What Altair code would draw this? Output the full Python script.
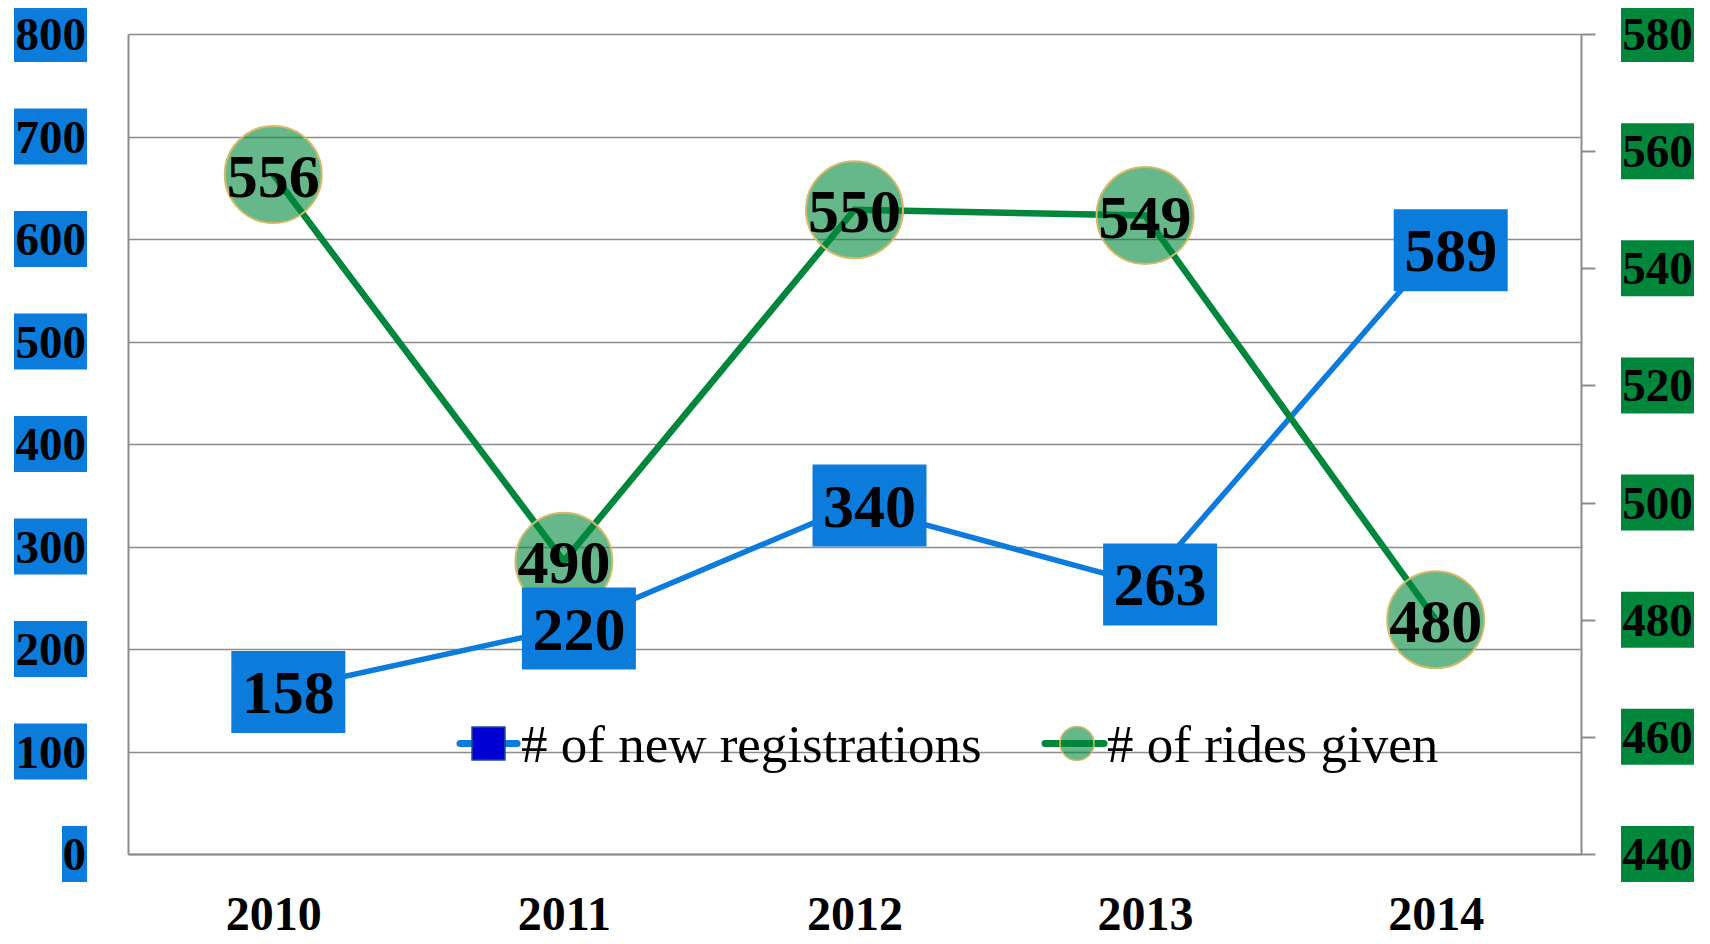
import altair as alt
import pandas as pd

# ---------------- data ----------------
YEARS = ["2010", "2011", "2012", "2013", "2014"]
REGISTRATIONS = [158, 220, 340, 263, 589]
RIDES = [556, 490, 550, 549, 480]
LEFT_TICKS = [0, 100, 200, 300, 400, 500, 600, 700, 800]
RIGHT_TICKS = [440, 460, 480, 500, 520, 540, 560, 580]
LEGEND_LABELS = ["# of new registrations", "# of rides given"]

# ---------------- style ----------------
W, H = 1453, 820
BLUE = "#0B7BDC"
GREEN = "#00873C"
GOLD = "#D8B968"
GRAY = "#8C8C8C"
SERIF = "Liberation Serif"

df = pd.DataFrame({"year": YEARS, "reg": REGISTRATIONS, "rides": RIDES})
left_df = pd.DataFrame({"tick": LEFT_TICKS})
right_df = pd.DataFrame({"tick": RIGHT_TICKS})

x_enc = alt.X(
    "year:N",
    sort=YEARS,
    scale=alt.Scale(type="point", padding=0.5),
    axis=alt.Axis(
        title=None, labelAngle=0, ticks=False, tickSize=0,
        domainColor=GRAY, domainWidth=2,
        labelFont=SERIF, labelFontWeight="bold", labelFontSize=48,
        labelColor="black", labelPadding=37, grid=False,
    ),
)

reg_scale = alt.Scale(domain=[0, 800], nice=False, zero=False)
ride_scale = alt.Scale(domain=[440, 580], nice=False, zero=False)

left_axis = alt.Axis(
    orient="left", values=LEFT_TICKS, grid=True, gridColor=GRAY, gridWidth=1.5,
    gridOpacity=1, domainColor=GRAY, domainWidth=2, ticks=False, tickSize=0,
    labels=False, title=None,
)
right_axis = alt.Axis(
    orient="right", values=RIGHT_TICKS, grid=False, domainColor=GRAY, domainWidth=2,
    ticks=True, tickSize=14, tickColor=GRAY, tickWidth=2, labels=False, title=None,
)

base = alt.Chart(df)

reg_line = base.mark_line(color=BLUE, strokeWidth=5.5).encode(
    x=x_enc, y=alt.Y("reg:Q", scale=reg_scale, axis=left_axis)
)
ride_line = base.mark_line(color=GREEN, strokeWidth=6.5).encode(
    x=x_enc, y=alt.Y("rides:Q", scale=ride_scale, axis=right_axis)
)
ride_circles = base.mark_point(
    shape="circle", size=97 * 97, filled=True, fill=GREEN, fillOpacity=0.6,
    stroke=GOLD, strokeWidth=2, opacity=1,
).encode(x=x_enc, y=alt.Y("rides:Q", scale=ride_scale, axis=None))
ride_text = base.mark_text(
    font=SERIF, fontWeight="bold", fontSize=62, color="black",
    align="center", baseline="middle", dy=3,
).encode(x=x_enc, y=alt.Y("rides:Q", scale=ride_scale, axis=None), text="rides:Q")

# data label boxes for registrations (114 x 82, shifted 15px right)
BOX_PATH = "M-1.024,-1H1.756V1H-1.024Z"
reg_boxes = base.mark_point(
    shape=BOX_PATH, size=82 * 82, filled=True, color=BLUE, opacity=1, strokeWidth=0,
).encode(x=x_enc, y=alt.Y("reg:Q", scale=reg_scale, axis=None))
reg_text = base.mark_text(
    font=SERIF, fontWeight="bold", fontSize=62, color="black",
    align="center", baseline="middle", dx=15, dy=2,
).encode(x=x_enc, y=alt.Y("reg:Q", scale=reg_scale, axis=None), text="reg:Q")

# left axis labels with blue boxes
P3_R = "M-2.607,-1H0V1H-2.607Z"
P1_R = "M-0.893,-1H0V1H-0.893Z"
left_boxes = alt.Chart(left_df).transform_calculate(
    shp=f"datum.tick >= 100 ? '{P3_R}' : '{P1_R}'"
).mark_point(filled=True, color=BLUE, opacity=1, strokeWidth=0, size=56 * 56).encode(
    x=alt.value(-41),
    y=alt.Y("tick:Q", scale=reg_scale, axis=None),
    shape=alt.Shape("shp:N", scale=None, legend=None),
)
left_text = alt.Chart(left_df).mark_text(
    font=SERIF, fontWeight="bold", fontSize=47, color="black",
    align="right", baseline="middle", dy=2,
).encode(
    x=alt.value(-42),
    y=alt.Y("tick:Q", scale=reg_scale, axis=None),
    text="tick:Q",
)

# right axis labels with green boxes
P3_L = "M0,-1H2.607V1H0Z"
right_boxes = alt.Chart(right_df).mark_point(
    shape=P3_L, filled=True, color=GREEN, opacity=1, strokeWidth=0, size=56 * 56
).encode(
    x=alt.value(W + 40),
    y=alt.Y("tick:Q", scale=ride_scale, axis=None),
)
right_text = alt.Chart(right_df).mark_text(
    font=SERIF, fontWeight="bold", fontSize=47, color="black",
    align="center", baseline="middle", dy=2,
).encode(
    x=alt.value(W + 40 + 36.5),
    y=alt.Y("tick:Q", scale=ride_scale, axis=None),
    text="tick:Q",
)

# legend (drawn with marks)
leg1 = alt.Data(values=[{"label": LEGEND_LABELS[0]}])
leg2 = alt.Data(values=[{"label": LEGEND_LABELS[1]}])
LY = 709.5
leg1_line = alt.Chart(leg1).mark_rule(color=BLUE, strokeWidth=7, strokeCap="round").encode(
    x=alt.value(332), x2=alt.value(389), y=alt.value(LY)
)
leg1_sym = alt.Chart(leg1).mark_point(
    shape="square", size=33 * 33, filled=True, fill="#0000D6", stroke="#1F4E8C",
    strokeWidth=1.5, opacity=1,
).encode(x=alt.value(360.5), y=alt.value(LY))
leg1_text = alt.Chart(leg1).mark_text(
    font=SERIF, fontSize=53, color="black", align="left", baseline="alphabetic",
).encode(x=alt.value(393), y=alt.value(728), text="label:N")

leg2_line = alt.Chart(leg2).mark_rule(color=GREEN, strokeWidth=7, strokeCap="round").encode(
    x=alt.value(917), x2=alt.value(976), y=alt.value(LY)
)
leg2_sym = alt.Chart(leg2).mark_point(
    shape="circle", size=34 * 34, filled=True, fill=GREEN, fillOpacity=0.6,
    stroke=GOLD, strokeWidth=1.5, opacity=1,
).encode(x=alt.value(949), y=alt.value(LY))
leg2_text = alt.Chart(leg2).mark_text(
    font=SERIF, fontSize=53, color="black", align="left", baseline="alphabetic",
).encode(x=alt.value(979), y=alt.value(728), text="label:N")

chart = alt.layer(
    reg_line, ride_line, ride_circles, ride_text, reg_boxes, reg_text,
    left_boxes, left_text, right_boxes, right_text,
    leg1_line, leg1_sym, leg1_text, leg2_line, leg2_sym, leg2_text,
).resolve_scale(y="independent").properties(
    width=W, height=H,
    autosize=alt.AutoSizeParams(type="none"),
    padding={"left": 120, "top": 26, "right": 120, "bottom": 86},
).configure_view(stroke=None).configure(background="white")

chart.save("out.html", embed_options={"renderer": "svg", "actions": False})
